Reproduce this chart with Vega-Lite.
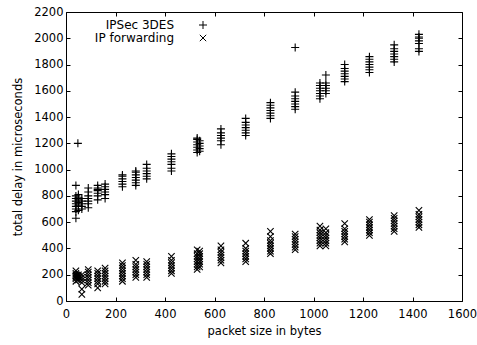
{
"$schema": "https://vega.github.io/schema/vega-lite/v6.json",
"autosize": "none",
"width": 396, "height": 289,
"padding": {"left": 66, "top": 12, "right": 15, "bottom": 44},
"background": "white",
"config": {"view": {"stroke": "black", "strokeWidth": 1}, "font": "DejaVu Sans",
 "axis": {"domain": false, "grid": false, "tickColor": "black", "tickSize": -4, "tickWidth": 1, "labelColor": "black", "labelFontSize": 11.5, "labelFont": "DejaVu Sans", "titleFont": "DejaVu Sans", "titleFontSize": 11.5, "titleFontWeight": "normal", "titleColor": "black", "format": "d", "labelOverlap": false, "labelFlush": false}},
"datasets": {"d": [
{"s":"IPSec 3DES","x":40,"y":630},{"s":"IPSec 3DES","x":40,"y":680},{"s":"IPSec 3DES","x":40,"y":700},{"s":"IPSec 3DES","x":40,"y":720},{"s":"IPSec 3DES","x":40,"y":740},{"s":"IPSec 3DES","x":40,"y":760},{"s":"IPSec 3DES","x":40,"y":780},{"s":"IPSec 3DES","x":40,"y":800},{"s":"IPSec 3DES","x":40,"y":880},
{"s":"IPSec 3DES","x":48,"y":1200},
{"s":"IPSec 3DES","x":50,"y":690},{"s":"IPSec 3DES","x":50,"y":730},{"s":"IPSec 3DES","x":50,"y":750},{"s":"IPSec 3DES","x":50,"y":770},{"s":"IPSec 3DES","x":50,"y":790},{"s":"IPSec 3DES","x":50,"y":810},
{"s":"IPSec 3DES","x":64,"y":700},{"s":"IPSec 3DES","x":64,"y":720},{"s":"IPSec 3DES","x":64,"y":740},{"s":"IPSec 3DES","x":64,"y":760},{"s":"IPSec 3DES","x":64,"y":780},
{"s":"IPSec 3DES","x":90,"y":710},{"s":"IPSec 3DES","x":90,"y":740},{"s":"IPSec 3DES","x":90,"y":760},{"s":"IPSec 3DES","x":90,"y":780},{"s":"IPSec 3DES","x":90,"y":800},{"s":"IPSec 3DES","x":90,"y":830},{"s":"IPSec 3DES","x":90,"y":860},
{"s":"IPSec 3DES","x":128,"y":770},{"s":"IPSec 3DES","x":128,"y":800},{"s":"IPSec 3DES","x":128,"y":820},{"s":"IPSec 3DES","x":128,"y":840},{"s":"IPSec 3DES","x":128,"y":850},{"s":"IPSec 3DES","x":128,"y":860},{"s":"IPSec 3DES","x":128,"y":880},
{"s":"IPSec 3DES","x":158,"y":780},{"s":"IPSec 3DES","x":158,"y":810},{"s":"IPSec 3DES","x":158,"y":830},{"s":"IPSec 3DES","x":158,"y":850},{"s":"IPSec 3DES","x":158,"y":870},{"s":"IPSec 3DES","x":158,"y":890},
{"s":"IPSec 3DES","x":228,"y":870},{"s":"IPSec 3DES","x":228,"y":890},{"s":"IPSec 3DES","x":228,"y":910},{"s":"IPSec 3DES","x":228,"y":930},{"s":"IPSec 3DES","x":228,"y":950},{"s":"IPSec 3DES","x":228,"y":960},
{"s":"IPSec 3DES","x":282,"y":880},{"s":"IPSec 3DES","x":282,"y":900},{"s":"IPSec 3DES","x":282,"y":920},{"s":"IPSec 3DES","x":282,"y":940},{"s":"IPSec 3DES","x":282,"y":960},{"s":"IPSec 3DES","x":282,"y":980},{"s":"IPSec 3DES","x":282,"y":990},
{"s":"IPSec 3DES","x":326,"y":930},{"s":"IPSec 3DES","x":326,"y":950},{"s":"IPSec 3DES","x":326,"y":970},{"s":"IPSec 3DES","x":326,"y":990},{"s":"IPSec 3DES","x":326,"y":1010},{"s":"IPSec 3DES","x":326,"y":1040},
{"s":"IPSec 3DES","x":426,"y":990},{"s":"IPSec 3DES","x":426,"y":1010},{"s":"IPSec 3DES","x":426,"y":1040},{"s":"IPSec 3DES","x":426,"y":1060},{"s":"IPSec 3DES","x":426,"y":1080},{"s":"IPSec 3DES","x":426,"y":1100},{"s":"IPSec 3DES","x":426,"y":1120},
{"s":"IPSec 3DES","x":530,"y":1130},{"s":"IPSec 3DES","x":530,"y":1150},{"s":"IPSec 3DES","x":530,"y":1170},{"s":"IPSec 3DES","x":530,"y":1190},{"s":"IPSec 3DES","x":530,"y":1210},{"s":"IPSec 3DES","x":530,"y":1230},{"s":"IPSec 3DES","x":530,"y":1240},
{"s":"IPSec 3DES","x":540,"y":1140},{"s":"IPSec 3DES","x":540,"y":1160},{"s":"IPSec 3DES","x":540,"y":1180},{"s":"IPSec 3DES","x":540,"y":1200},{"s":"IPSec 3DES","x":540,"y":1220},
{"s":"IPSec 3DES","x":626,"y":1190},{"s":"IPSec 3DES","x":626,"y":1220},{"s":"IPSec 3DES","x":626,"y":1240},{"s":"IPSec 3DES","x":626,"y":1260},{"s":"IPSec 3DES","x":626,"y":1280},{"s":"IPSec 3DES","x":626,"y":1310},
{"s":"IPSec 3DES","x":726,"y":1260},{"s":"IPSec 3DES","x":726,"y":1280},{"s":"IPSec 3DES","x":726,"y":1300},{"s":"IPSec 3DES","x":726,"y":1320},{"s":"IPSec 3DES","x":726,"y":1340},{"s":"IPSec 3DES","x":726,"y":1360},{"s":"IPSec 3DES","x":726,"y":1390},
{"s":"IPSec 3DES","x":826,"y":1390},{"s":"IPSec 3DES","x":826,"y":1410},{"s":"IPSec 3DES","x":826,"y":1430},{"s":"IPSec 3DES","x":826,"y":1450},{"s":"IPSec 3DES","x":826,"y":1470},{"s":"IPSec 3DES","x":826,"y":1490},{"s":"IPSec 3DES","x":826,"y":1510},
{"s":"IPSec 3DES","x":926,"y":1460},{"s":"IPSec 3DES","x":926,"y":1480},{"s":"IPSec 3DES","x":926,"y":1500},{"s":"IPSec 3DES","x":926,"y":1520},{"s":"IPSec 3DES","x":926,"y":1540},{"s":"IPSec 3DES","x":926,"y":1560},{"s":"IPSec 3DES","x":926,"y":1590},{"s":"IPSec 3DES","x":926,"y":1930},
{"s":"IPSec 3DES","x":1026,"y":1540},{"s":"IPSec 3DES","x":1026,"y":1560},{"s":"IPSec 3DES","x":1026,"y":1580},{"s":"IPSec 3DES","x":1026,"y":1600},{"s":"IPSec 3DES","x":1026,"y":1620},{"s":"IPSec 3DES","x":1026,"y":1640},{"s":"IPSec 3DES","x":1026,"y":1660},
{"s":"IPSec 3DES","x":1050,"y":1580},{"s":"IPSec 3DES","x":1050,"y":1600},{"s":"IPSec 3DES","x":1050,"y":1620},{"s":"IPSec 3DES","x":1050,"y":1640},{"s":"IPSec 3DES","x":1050,"y":1660},{"s":"IPSec 3DES","x":1050,"y":1720},
{"s":"IPSec 3DES","x":1126,"y":1670},{"s":"IPSec 3DES","x":1126,"y":1690},{"s":"IPSec 3DES","x":1126,"y":1710},{"s":"IPSec 3DES","x":1126,"y":1730},{"s":"IPSec 3DES","x":1126,"y":1750},{"s":"IPSec 3DES","x":1126,"y":1770},{"s":"IPSec 3DES","x":1126,"y":1800},
{"s":"IPSec 3DES","x":1226,"y":1740},{"s":"IPSec 3DES","x":1226,"y":1760},{"s":"IPSec 3DES","x":1226,"y":1780},{"s":"IPSec 3DES","x":1226,"y":1800},{"s":"IPSec 3DES","x":1226,"y":1820},{"s":"IPSec 3DES","x":1226,"y":1840},{"s":"IPSec 3DES","x":1226,"y":1860},
{"s":"IPSec 3DES","x":1326,"y":1820},{"s":"IPSec 3DES","x":1326,"y":1840},{"s":"IPSec 3DES","x":1326,"y":1860},{"s":"IPSec 3DES","x":1326,"y":1880},{"s":"IPSec 3DES","x":1326,"y":1900},{"s":"IPSec 3DES","x":1326,"y":1920},{"s":"IPSec 3DES","x":1326,"y":1950},
{"s":"IPSec 3DES","x":1426,"y":1900},{"s":"IPSec 3DES","x":1426,"y":1920},{"s":"IPSec 3DES","x":1426,"y":1960},{"s":"IPSec 3DES","x":1426,"y":1980},{"s":"IPSec 3DES","x":1426,"y":2000},{"s":"IPSec 3DES","x":1426,"y":2010},{"s":"IPSec 3DES","x":1426,"y":2030},
{"s":"IP forwarding","x":40,"y":150},{"s":"IP forwarding","x":40,"y":170},{"s":"IP forwarding","x":40,"y":180},{"s":"IP forwarding","x":40,"y":190},{"s":"IP forwarding","x":40,"y":200},{"s":"IP forwarding","x":40,"y":210},{"s":"IP forwarding","x":40,"y":230},
{"s":"IP forwarding","x":50,"y":160},{"s":"IP forwarding","x":50,"y":180},{"s":"IP forwarding","x":50,"y":190},{"s":"IP forwarding","x":50,"y":200},
{"s":"IP forwarding","x":64,"y":50},{"s":"IP forwarding","x":64,"y":90},{"s":"IP forwarding","x":64,"y":140},{"s":"IP forwarding","x":64,"y":160},{"s":"IP forwarding","x":64,"y":180},{"s":"IP forwarding","x":64,"y":200},
{"s":"IP forwarding","x":90,"y":120},{"s":"IP forwarding","x":90,"y":140},{"s":"IP forwarding","x":90,"y":160},{"s":"IP forwarding","x":90,"y":180},{"s":"IP forwarding","x":90,"y":200},{"s":"IP forwarding","x":90,"y":220},{"s":"IP forwarding","x":90,"y":240},
{"s":"IP forwarding","x":128,"y":100},{"s":"IP forwarding","x":128,"y":130},{"s":"IP forwarding","x":128,"y":150},{"s":"IP forwarding","x":128,"y":170},{"s":"IP forwarding","x":128,"y":190},{"s":"IP forwarding","x":128,"y":210},{"s":"IP forwarding","x":128,"y":230},
{"s":"IP forwarding","x":158,"y":130},{"s":"IP forwarding","x":158,"y":150},{"s":"IP forwarding","x":158,"y":170},{"s":"IP forwarding","x":158,"y":190},{"s":"IP forwarding","x":158,"y":210},{"s":"IP forwarding","x":158,"y":230},{"s":"IP forwarding","x":158,"y":250},
{"s":"IP forwarding","x":228,"y":150},{"s":"IP forwarding","x":228,"y":170},{"s":"IP forwarding","x":228,"y":190},{"s":"IP forwarding","x":228,"y":210},{"s":"IP forwarding","x":228,"y":230},{"s":"IP forwarding","x":228,"y":250},{"s":"IP forwarding","x":228,"y":270},{"s":"IP forwarding","x":228,"y":290},
{"s":"IP forwarding","x":282,"y":180},{"s":"IP forwarding","x":282,"y":200},{"s":"IP forwarding","x":282,"y":220},{"s":"IP forwarding","x":282,"y":240},{"s":"IP forwarding","x":282,"y":260},{"s":"IP forwarding","x":282,"y":280},{"s":"IP forwarding","x":282,"y":310},
{"s":"IP forwarding","x":326,"y":180},{"s":"IP forwarding","x":326,"y":200},{"s":"IP forwarding","x":326,"y":220},{"s":"IP forwarding","x":326,"y":240},{"s":"IP forwarding","x":326,"y":260},{"s":"IP forwarding","x":326,"y":280},{"s":"IP forwarding","x":326,"y":300},
{"s":"IP forwarding","x":426,"y":210},{"s":"IP forwarding","x":426,"y":230},{"s":"IP forwarding","x":426,"y":250},{"s":"IP forwarding","x":426,"y":270},{"s":"IP forwarding","x":426,"y":290},{"s":"IP forwarding","x":426,"y":310},{"s":"IP forwarding","x":426,"y":340},
{"s":"IP forwarding","x":530,"y":240},{"s":"IP forwarding","x":530,"y":260},{"s":"IP forwarding","x":530,"y":280},{"s":"IP forwarding","x":530,"y":300},{"s":"IP forwarding","x":530,"y":320},{"s":"IP forwarding","x":530,"y":340},{"s":"IP forwarding","x":530,"y":360},{"s":"IP forwarding","x":530,"y":390},
{"s":"IP forwarding","x":540,"y":260},{"s":"IP forwarding","x":540,"y":280},{"s":"IP forwarding","x":540,"y":300},{"s":"IP forwarding","x":540,"y":320},{"s":"IP forwarding","x":540,"y":340},{"s":"IP forwarding","x":540,"y":360},{"s":"IP forwarding","x":540,"y":380},
{"s":"IP forwarding","x":626,"y":290},{"s":"IP forwarding","x":626,"y":310},{"s":"IP forwarding","x":626,"y":330},{"s":"IP forwarding","x":626,"y":350},{"s":"IP forwarding","x":626,"y":370},{"s":"IP forwarding","x":626,"y":390},{"s":"IP forwarding","x":626,"y":420},
{"s":"IP forwarding","x":726,"y":300},{"s":"IP forwarding","x":726,"y":320},{"s":"IP forwarding","x":726,"y":340},{"s":"IP forwarding","x":726,"y":360},{"s":"IP forwarding","x":726,"y":380},{"s":"IP forwarding","x":726,"y":400},{"s":"IP forwarding","x":726,"y":440},
{"s":"IP forwarding","x":826,"y":360},{"s":"IP forwarding","x":826,"y":380},{"s":"IP forwarding","x":826,"y":400},{"s":"IP forwarding","x":826,"y":420},{"s":"IP forwarding","x":826,"y":440},{"s":"IP forwarding","x":826,"y":460},{"s":"IP forwarding","x":826,"y":490},{"s":"IP forwarding","x":826,"y":530},
{"s":"IP forwarding","x":926,"y":390},{"s":"IP forwarding","x":926,"y":410},{"s":"IP forwarding","x":926,"y":430},{"s":"IP forwarding","x":926,"y":450},{"s":"IP forwarding","x":926,"y":470},{"s":"IP forwarding","x":926,"y":490},{"s":"IP forwarding","x":926,"y":510},
{"s":"IP forwarding","x":1026,"y":420},{"s":"IP forwarding","x":1026,"y":440},{"s":"IP forwarding","x":1026,"y":460},{"s":"IP forwarding","x":1026,"y":480},{"s":"IP forwarding","x":1026,"y":500},{"s":"IP forwarding","x":1026,"y":520},{"s":"IP forwarding","x":1026,"y":540},{"s":"IP forwarding","x":1026,"y":570},
{"s":"IP forwarding","x":1050,"y":420},{"s":"IP forwarding","x":1050,"y":440},{"s":"IP forwarding","x":1050,"y":460},{"s":"IP forwarding","x":1050,"y":480},{"s":"IP forwarding","x":1050,"y":500},{"s":"IP forwarding","x":1050,"y":520},{"s":"IP forwarding","x":1050,"y":550},
{"s":"IP forwarding","x":1126,"y":450},{"s":"IP forwarding","x":1126,"y":470},{"s":"IP forwarding","x":1126,"y":490},{"s":"IP forwarding","x":1126,"y":510},{"s":"IP forwarding","x":1126,"y":530},{"s":"IP forwarding","x":1126,"y":550},{"s":"IP forwarding","x":1126,"y":590},
{"s":"IP forwarding","x":1226,"y":500},{"s":"IP forwarding","x":1226,"y":520},{"s":"IP forwarding","x":1226,"y":540},{"s":"IP forwarding","x":1226,"y":560},{"s":"IP forwarding","x":1226,"y":580},{"s":"IP forwarding","x":1226,"y":600},{"s":"IP forwarding","x":1226,"y":620},
{"s":"IP forwarding","x":1326,"y":530},{"s":"IP forwarding","x":1326,"y":550},{"s":"IP forwarding","x":1326,"y":570},{"s":"IP forwarding","x":1326,"y":590},{"s":"IP forwarding","x":1326,"y":610},{"s":"IP forwarding","x":1326,"y":630},{"s":"IP forwarding","x":1326,"y":650},
{"s":"IP forwarding","x":1426,"y":560},{"s":"IP forwarding","x":1426,"y":580},{"s":"IP forwarding","x":1426,"y":600},{"s":"IP forwarding","x":1426,"y":620},{"s":"IP forwarding","x":1426,"y":640},{"s":"IP forwarding","x":1426,"y":660},{"s":"IP forwarding","x":1426,"y":690}
]},
"data": {"name": "d"},
"layer": [
 {"mark": {"type": "point", "filled": false, "stroke": "black", "strokeWidth": 1.1, "size": 64, "opacity": 1},
  "encoding": {
   "x": {"field": "x", "type": "quantitative", "scale": {"domain": [0, 1600], "nice": false, "zero": false}, "axis": {"orient": "bottom", "values": [0,200,400,600,800,1000,1200,1400,1600], "title": "packet size in bytes", "labelPadding": 11, "titlePadding": 6}},
   "y": {"field": "y", "type": "quantitative", "scale": {"domain": [0, 2200], "nice": false, "zero": false}, "axis": {"orient": "left", "values": [0,200,400,600,800,1000,1200,1400,1600,1800,2000,2200], "title": "total delay in microseconds", "labelPadding": 7, "titlePadding": 10}},
   "shape": {"field": "s", "type": "nominal", "scale": {"domain": ["IPSec 3DES", "IP forwarding"], "range": ["M-1,0H1M0,-1V1", "M-0.8,-0.8L0.8,0.8M-0.8,0.8L0.8,-0.8"]},
     "legend": {"orient": "none", "legendX": 131, "legendY": 7, "title": null, "padding": 0, "labelAlign": "right", "labelOffset": -35, "labelFontSize": 12, "labelFont": "DejaVu Sans", "labelColor": "black", "symbolSize": 64, "symbolStrokeWidth": 1, "symbolStrokeColor": "black", "symbolFillColor": "transparent", "rowPadding": 1}}
  }},
 {"mark": {"type": "point", "opacity": 0},
  "encoding": {
   "x": {"field": "x", "type": "quantitative", "scale": {"domain": [0, 1600], "nice": false, "zero": false}, "axis": {"orient": "top", "values": [0,200,400,600,800,1000,1200,1400,1600], "labels": false, "title": null}},
   "y": {"field": "y", "type": "quantitative", "scale": {"domain": [0, 2200], "nice": false, "zero": false}, "axis": {"orient": "right", "values": [0,200,400,600,800,1000,1200,1400,1600,1800,2000,2200], "labels": false, "title": null}}
  }}
],
"resolve": {"axis": {"x": "independent", "y": "independent"}}
}
